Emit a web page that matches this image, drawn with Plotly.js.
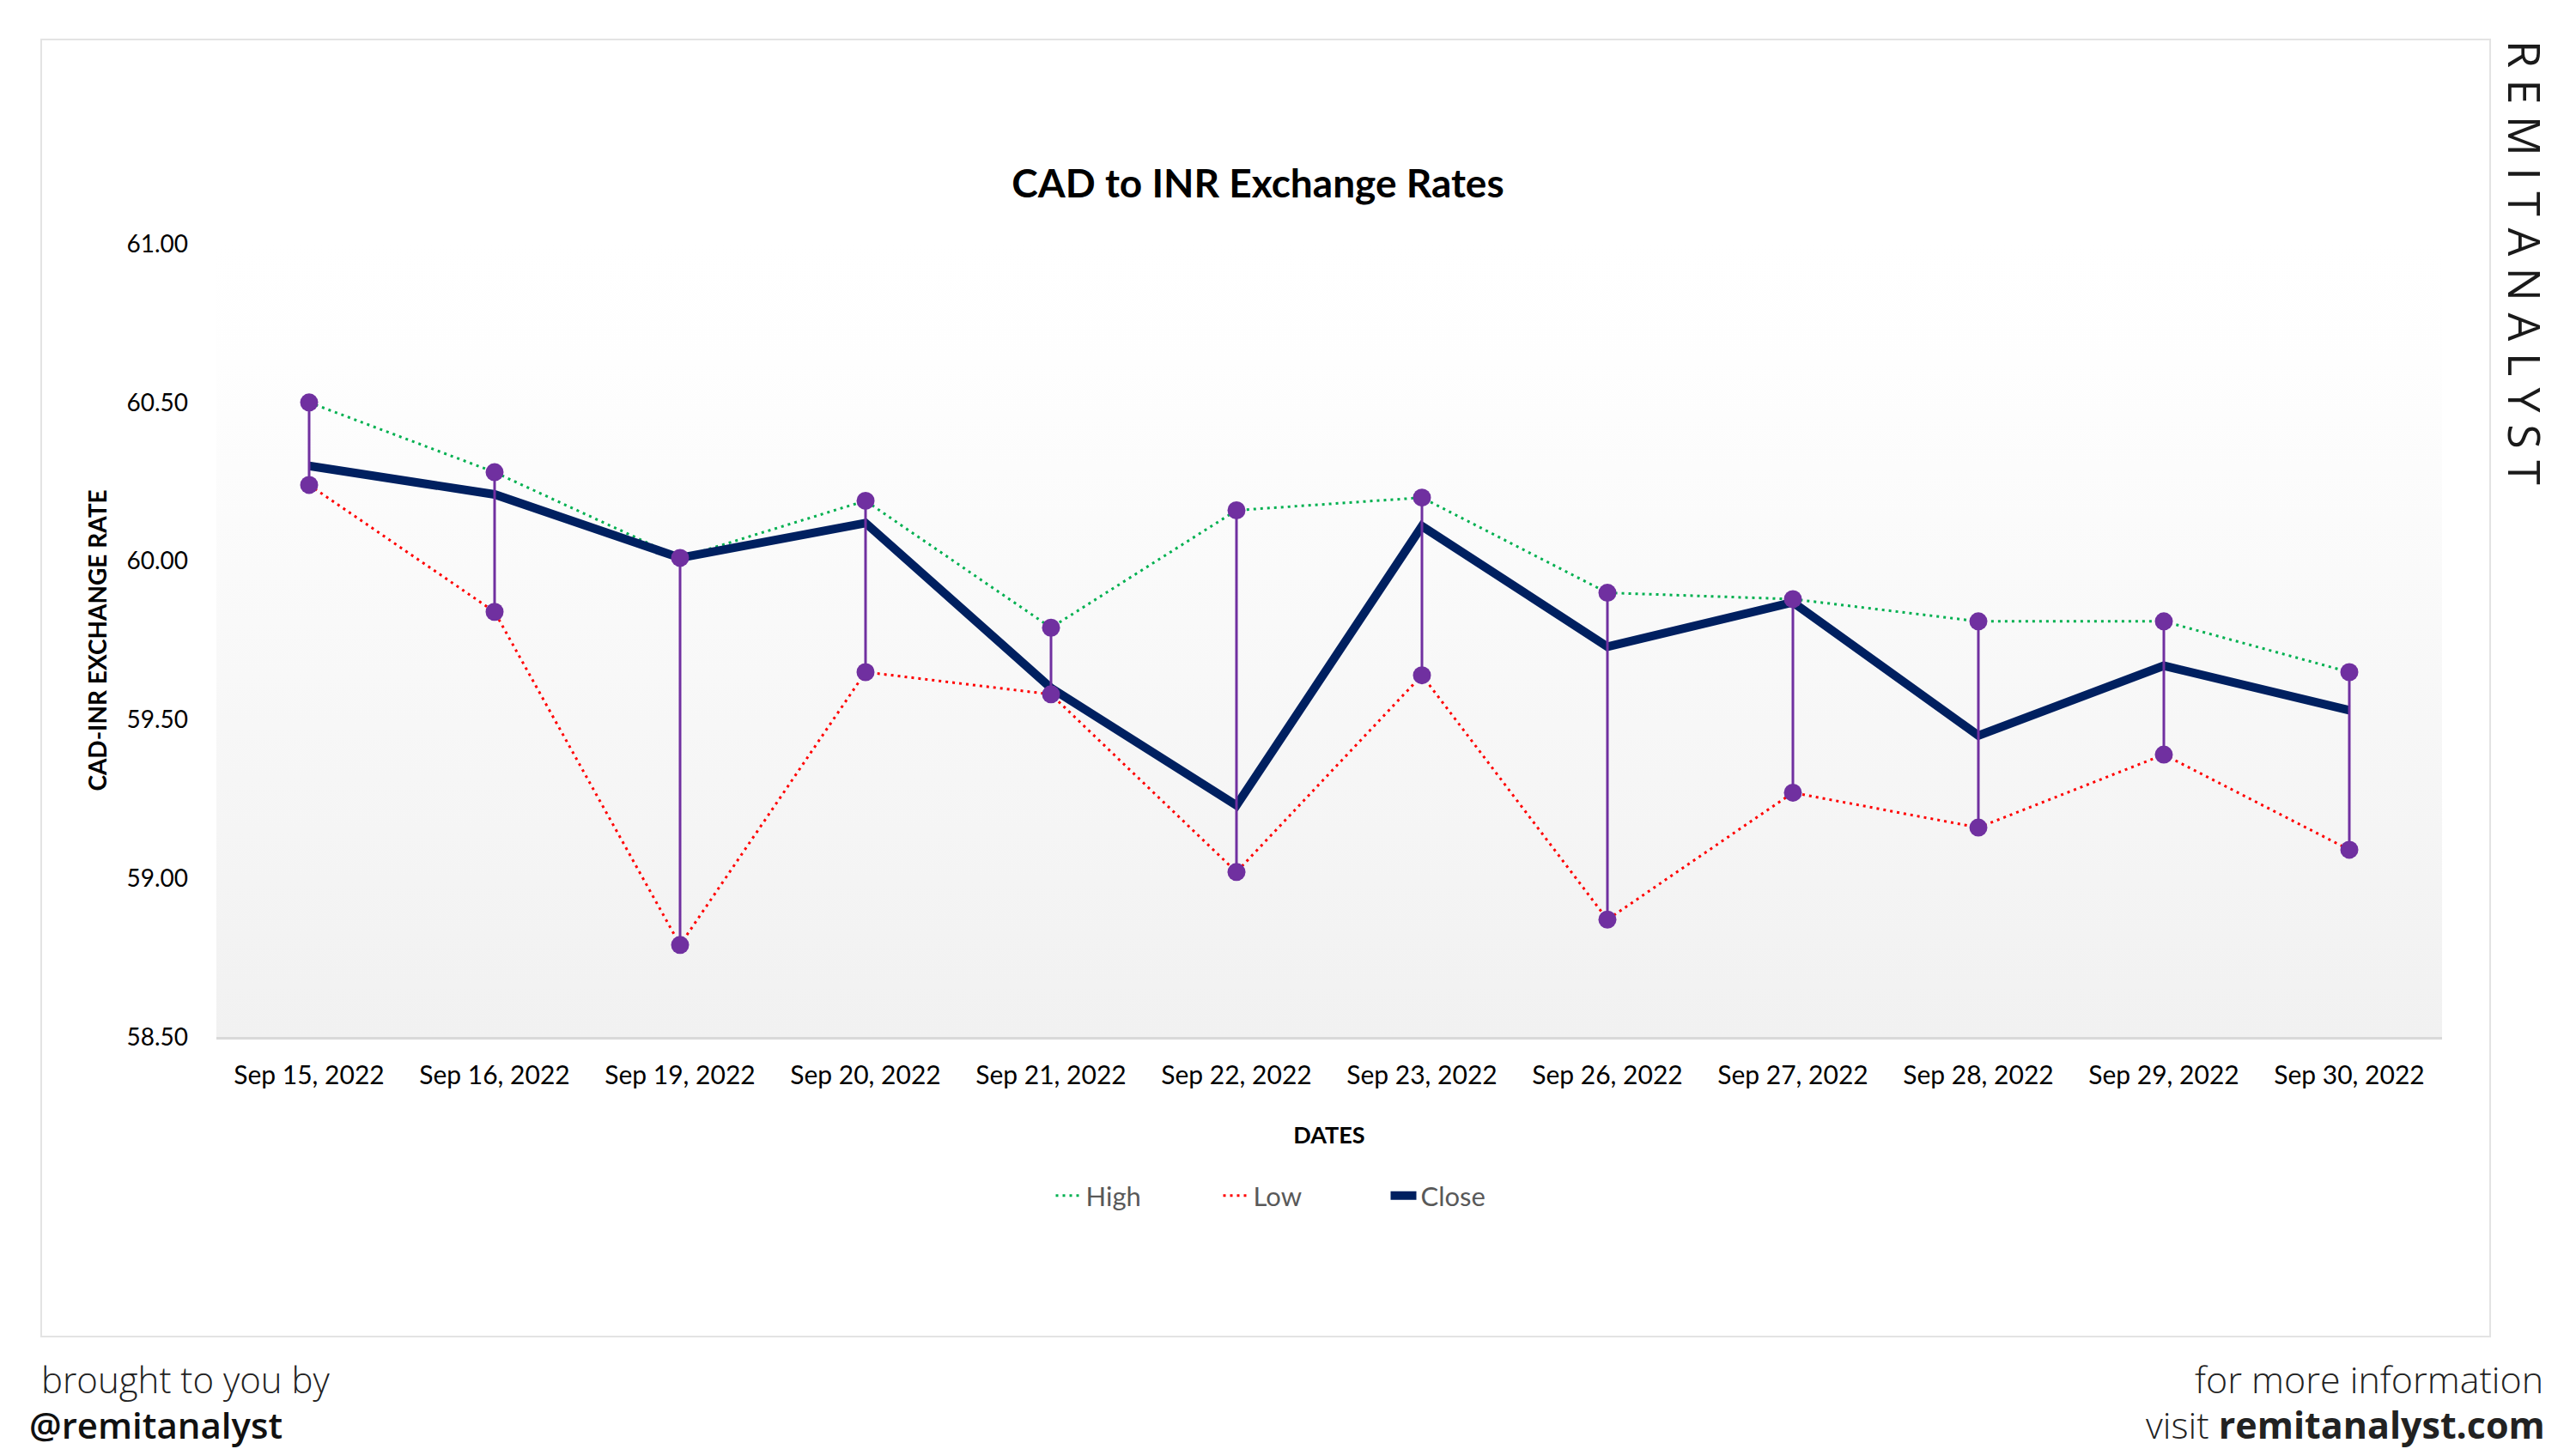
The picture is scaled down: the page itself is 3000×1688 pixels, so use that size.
<!DOCTYPE html>
<html>
<head>
<meta charset="utf-8">
<script src="https://cdn.plot.ly/plotly-3.0.1.min.js"></script>
<style>
  html, body { margin: 0; padding: 0; background: #ffffff; }
  #chart { width: 3000px; height: 1688px; }
</style>
</head>
<body>
<div id="chart"></div>
<script>
// ---- data ----
const dates = ["Sep 15, 2022", "Sep 16, 2022", "Sep 19, 2022", "Sep 20, 2022", "Sep 21, 2022", "Sep 22, 2022",
               "Sep 23, 2022", "Sep 26, 2022", "Sep 27, 2022", "Sep 28, 2022", "Sep 29, 2022", "Sep 30, 2022"];
const high  = [60.50, 60.28, 60.01, 60.19, 59.79, 60.16, 60.20, 59.90, 59.88, 59.81, 59.81, 59.65];
const low   = [60.24, 59.84, 58.79, 59.65, 59.58, 59.02, 59.64, 58.87, 59.27, 59.16, 59.39, 59.09];
const close = [60.30, 60.21, 60.01, 60.12, 59.60, 59.23, 60.11, 59.73, 59.87, 59.45, 59.67, 59.53];
const yTickVals = [58.5, 59.0, 59.5, 60.0, 60.5, 61.0];
const yTickText = ["58.50", "59.00", "59.50", "60.00", "60.50", "61.00"];

// ---- page geometry (pixels) ----
const W = 3000, H = 1688, L = 252, R = 156, T = 284, B = 480;
const PW = W - L - R, PH = H - T - B;
const px = v => (v - L) / PW;          // pixel x -> paper x
const py = v => (H - B - v) / PH;      // pixel y -> paper y

const FONT = "Lato, 'Open Sans', sans-serif";
const FOOT = "'Open Sans', 'Noto Sans', sans-serif";
const PURPLE = "#7030A0";

// high-low connectors built from the data arrays
const hlX = dates.flatMap(d => [d, d, null]);
const hlY = high.flatMap((h, i) => [h, low[i], null]);

const traces = [
  { name: "High", type: "scatter", mode: "lines", x: dates, y: high,
    line: { color: "#00B050", width: 3, dash: "3px,5px" }, hoverinfo: "skip" },
  { name: "Low", type: "scatter", mode: "lines", x: dates, y: low,
    line: { color: "#FF0000", width: 3, dash: "3px,5px" }, hoverinfo: "skip" },
  { name: "Close", type: "scatter", mode: "lines", x: dates, y: close,
    line: { color: "#002060", width: 10 }, hoverinfo: "skip" },
  { name: "High-Low", type: "scatter", mode: "lines", x: hlX, y: hlY, showlegend: false,
    line: { color: PURPLE, width: 3 }, hoverinfo: "skip", connectgaps: false },
  { name: "High points", type: "scatter", mode: "markers", x: dates, y: high, showlegend: false,
    marker: { color: PURPLE, size: 21 }, hoverinfo: "skip" },
  { name: "Low points", type: "scatter", mode: "markers", x: dates, y: low, showlegend: false,
    marker: { color: PURPLE, size: 21 }, hoverinfo: "skip" }
];

const gradSvg = '<svg xmlns="http://www.w3.org/2000/svg" width="100" height="100" preserveAspectRatio="none">' +
  '<defs><linearGradient id="g" x1="0" y1="0" x2="0" y2="1">' +
  '<stop offset="0" stop-color="#ffffff"/><stop offset="0.15" stop-color="#fefefe"/><stop offset="1" stop-color="#f1f1f1"/>' +
  '</linearGradient></defs><rect width="100" height="100" fill="url(#g)"/></svg>';

const layout = {
  width: W, height: H,
  margin: { l: L, r: R, t: T, b: B },
  paper_bgcolor: "#ffffff",
  plot_bgcolor: "rgba(0,0,0,0)",
  showlegend: true,
  title: {
    text: "<b>CAD to INR Exchange Rates</b>",
    font: { family: FONT, size: 46, color: "#000000" },
    x: 1465 / W, xanchor: "center", xref: "container",
    y: 1 - 214 / H, yanchor: "middle", yref: "container"
  },
  xaxis: {
    type: "category",
    range: [-0.5, dates.length - 0.5],
    showgrid: false, zeroline: false,
    showline: true, linecolor: "#d9d9d9", linewidth: 3,
    ticks: "", ticklabelstandoff: 16,
    tickfont: { family: FONT, size: 30, color: "#000000" },
    title: { text: "<b>DATES</b>", font: { family: FONT, size: 27, color: "#000000" }, standoff: 46 },
    fixedrange: true
  },
  yaxis: {
    range: [58.5, 61.0],
    tickvals: yTickVals, ticktext: yTickText,
    showgrid: false, zeroline: false, showline: false,
    ticks: "", ticklabelstandoff: 32,
    tickfont: { family: FONT, size: 28, color: "#000000" },
    title: { text: "<b>CAD-INR EXCHANGE RATE</b>", font: { family: FONT, size: 28, color: "#000000" }, standoff: 14 },
    fixedrange: true
  },
  legend: {
    orientation: "h",
    x: px(1517), xanchor: "center",
    y: py(1393), yanchor: "middle",
    bgcolor: "rgba(0,0,0,0)",
    font: { family: FONT, size: 31, color: "#595959" },
    entrywidth: 150, entrywidthmode: "pixels",
    traceorder: "normal"
  },
  images: [{
    source: "data:image/svg+xml;charset=utf-8," + encodeURIComponent(gradSvg),
    xref: "paper", yref: "paper", x: 0, y: 1, sizex: 1, sizey: 1,
    xanchor: "left", yanchor: "top", sizing: "stretch", layer: "below"
  }],
  shapes: [{
    type: "rect", xref: "paper", yref: "paper",
    x0: px(48), x1: px(2900), y0: py(46), y1: py(1557),
    line: { color: "#e3e3e3", width: 2 }, fillcolor: "rgba(0,0,0,0)", layer: "below"
  }],
  annotations: [
    { text: "R E M I T A N A L Y S T", xref: "paper", yref: "paper", x: px(2942), y: py(306),
      xanchor: "center", yanchor: "middle", textangle: 90, showarrow: false,
      font: { family: FOOT, size: 52, color: "#1a1a1a", weight: 400 } },
    { text: "brought to you by", xref: "paper", yref: "paper", x: px(46), y: py(1606),
      xanchor: "left", yanchor: "middle", showarrow: false,
      font: { family: FOOT, size: 42, color: "#222222", weight: 300 } },
    { text: "@remitanalyst", xref: "paper", yref: "paper", x: px(32), y: py(1659),
      xanchor: "left", yanchor: "middle", showarrow: false,
      font: { family: FOOT, size: 42, color: "#111111", weight: 600 } },
    { text: "for more information", xref: "paper", yref: "paper", x: px(2964), y: py(1606),
      xanchor: "right", yanchor: "middle", showarrow: false,
      font: { family: FOOT, size: 43, color: "#222222", weight: 300 } },
    { text: "visit <b>remitanalyst.com</b>", xref: "paper", yref: "paper", x: px(2966), y: py(1659),
      xanchor: "right", yanchor: "middle", showarrow: false,
      font: { family: FOOT, size: 43, color: "#222222", weight: 300 } }
  ]
};

Plotly.newPlot("chart", traces, layout, { displayModeBar: false, staticPlot: true });
</script>
</body>
</html>
